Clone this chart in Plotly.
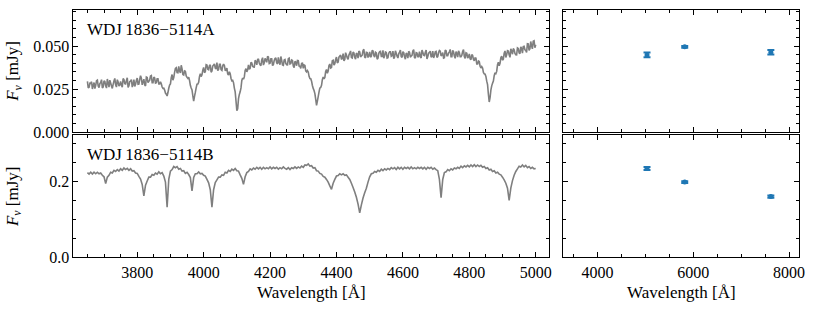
import numpy as np
import plotly.graph_objects as go

# ---------------- data ----------------
# Spectrum A read at 3650, 3655, ..., 5000 A and at the in-between points 3652.5, ..., 4997.5 A
flux_A_main = [
    0.0295, 0.0261, 0.0284, 0.0251, 0.0288, 0.0272, 0.0302, 0.0259, 0.0288, 0.0257,
    0.0298, 0.0270, 0.0309, 0.0261, 0.0286, 0.0254, 0.0298, 0.0275, 0.0305, 0.0268,
    0.0295, 0.0261, 0.0306, 0.0280, 0.0316, 0.0269, 0.0296, 0.0262, 0.0305, 0.0278,
    0.0314, 0.0279, 0.0328, 0.0275, 0.0308, 0.0269, 0.0317, 0.0295, 0.0326, 0.0287,
    0.0320, 0.0285, 0.0310, 0.0280, 0.0292, 0.0262, 0.0255, 0.0227, 0.0210, 0.0255,
    0.0280, 0.0335, 0.0317, 0.0370, 0.0346, 0.0382, 0.0344, 0.0367, 0.0332, 0.0354,
    0.0318, 0.0320, 0.0272, 0.0245, 0.0180, 0.0231, 0.0278, 0.0290, 0.0339, 0.0333,
    0.0376, 0.0351, 0.0390, 0.0363, 0.0391, 0.0355, 0.0390, 0.0372, 0.0404, 0.0364,
    0.0394, 0.0359, 0.0395, 0.0360, 0.0372, 0.0332, 0.0340, 0.0298, 0.0288, 0.0234,
    0.0125, 0.0195, 0.0234, 0.0300, 0.0308, 0.0359, 0.0350, 0.0391, 0.0371, 0.0402,
    0.0379, 0.0418, 0.0391, 0.0426, 0.0392, 0.0420, 0.0390, 0.0429, 0.0406, 0.0437,
    0.0401, 0.0426, 0.0393, 0.0428, 0.0402, 0.0435, 0.0392, 0.0418, 0.0388, 0.0422,
    0.0392, 0.0427, 0.0396, 0.0419, 0.0384, 0.0412, 0.0386, 0.0416, 0.0383, 0.0400,
    0.0371, 0.0387, 0.0350, 0.0350, 0.0312, 0.0296, 0.0254, 0.0224, 0.0155, 0.0206,
    0.0256, 0.0272, 0.0320, 0.0318, 0.0364, 0.0355, 0.0396, 0.0376, 0.0418, 0.0398,
    0.0436, 0.0407, 0.0442, 0.0423, 0.0456, 0.0423, 0.0449, 0.0423, 0.0459, 0.0434,
    0.0466, 0.0435, 0.0460, 0.0430, 0.0467, 0.0443, 0.0474, 0.0436, 0.0464, 0.0434,
    0.0466, 0.0442, 0.0472, 0.0436, 0.0460, 0.0430, 0.0468, 0.0440, 0.0476, 0.0444,
    0.0463, 0.0433, 0.0467, 0.0441, 0.0471, 0.0437, 0.0459, 0.0431, 0.0465, 0.0439,
    0.0468, 0.0438, 0.0460, 0.0430, 0.0464, 0.0442, 0.0472, 0.0434, 0.0462, 0.0436,
    0.0468, 0.0432, 0.0465, 0.0445, 0.0477, 0.0440, 0.0464, 0.0436, 0.0471, 0.0445,
    0.0469, 0.0439, 0.0475, 0.0443, 0.0463, 0.0433, 0.0473, 0.0445, 0.0467, 0.0439,
    0.0475, 0.0443, 0.0468, 0.0436, 0.0463, 0.0438, 0.0469, 0.0440, 0.0461, 0.0431,
    0.0455, 0.0422, 0.0446, 0.0415, 0.0430, 0.0396, 0.0410, 0.0373, 0.0373, 0.0339,
    0.0324, 0.0276, 0.0175, 0.0244, 0.0284, 0.0328, 0.0340, 0.0392, 0.0386, 0.0432,
    0.0419, 0.0459, 0.0434, 0.0474, 0.0450, 0.0485, 0.0453, 0.0479, 0.0450, 0.0490,
    0.0461, 0.0496, 0.0460, 0.0499, 0.0475, 0.0514, 0.0475, 0.0527, 0.0484, 0.0531,
    0.0508,
]
flux_A_mid = [
    0.0257, 0.0285, 0.0293, 0.0271, 0.0253, 0.0299, 0.0268, 0.0282, 0.0305, 0.0263,
    0.0294, 0.0256, 0.0286, 0.0302, 0.0268, 0.0278, 0.0312, 0.0262, 0.0292, 0.0274,
    0.0272, 0.0312, 0.0282, 0.0300, 0.0260, 0.0294, 0.0306, 0.0276, 0.0266, 0.0302,
    0.0278, 0.0306, 0.0314, 0.0292, 0.0274, 0.0320, 0.0288, 0.0302, 0.0329, 0.0287,
    0.0315, 0.0287, 0.0310, 0.0280, 0.0281, 0.0254, 0.0244, 0.0220, 0.0230, 0.0274,
    0.0317, 0.0302, 0.0347, 0.0374, 0.0345, 0.0356, 0.0389, 0.0335, 0.0356, 0.0327,
    0.0312, 0.0301, 0.0256, 0.0210, 0.0208, 0.0257, 0.0279, 0.0323, 0.0323, 0.0360,
    0.0346, 0.0392, 0.0366, 0.0386, 0.0348, 0.0384, 0.0397, 0.0368, 0.0358, 0.0394,
    0.0363, 0.0386, 0.0387, 0.0359, 0.0338, 0.0351, 0.0312, 0.0301, 0.0256, 0.0180,
    0.0135, 0.0219, 0.0257, 0.0315, 0.0321, 0.0369, 0.0362, 0.0366, 0.0406, 0.0383,
    0.0378, 0.0410, 0.0421, 0.0402, 0.0386, 0.0433, 0.0403, 0.0418, 0.0441, 0.0399,
    0.0426, 0.0387, 0.0416, 0.0432, 0.0397, 0.0406, 0.0440, 0.0390, 0.0419, 0.0400,
    0.0391, 0.0430, 0.0399, 0.0416, 0.0375, 0.0407, 0.0417, 0.0384, 0.0370, 0.0401,
    0.0390, 0.0356, 0.0358, 0.0324, 0.0311, 0.0271, 0.0242, 0.0190, 0.0180, 0.0234,
    0.0259, 0.0305, 0.0310, 0.0352, 0.0342, 0.0387, 0.0373, 0.0415, 0.0389, 0.0423,
    0.0403, 0.0436, 0.0448, 0.0429, 0.0414, 0.0462, 0.0432, 0.0448, 0.0472, 0.0431,
    0.0461, 0.0424, 0.0454, 0.0471, 0.0437, 0.0448, 0.0482, 0.0432, 0.0462, 0.0444,
    0.0436, 0.0476, 0.0446, 0.0464, 0.0424, 0.0458, 0.0470, 0.0440, 0.0430, 0.0466,
    0.0431, 0.0459, 0.0467, 0.0445, 0.0427, 0.0473, 0.0441, 0.0455, 0.0477, 0.0435,
    0.0462, 0.0424, 0.0454, 0.0470, 0.0436, 0.0446, 0.0480, 0.0430, 0.0460, 0.0442,
    0.0437, 0.0477, 0.0447, 0.0465, 0.0425, 0.0459, 0.0471, 0.0441, 0.0431, 0.0467,
    0.0435, 0.0463, 0.0471, 0.0449, 0.0431, 0.0477, 0.0445, 0.0459, 0.0481, 0.0439,
    0.0467, 0.0429, 0.0458, 0.0473, 0.0438, 0.0447, 0.0480, 0.0429, 0.0458, 0.0437,
    0.0426, 0.0451, 0.0422, 0.0431, 0.0396, 0.0413, 0.0383, 0.0381, 0.0347, 0.0337,
    0.0296, 0.0220, 0.0200, 0.0269, 0.0297, 0.0345, 0.0353, 0.0406, 0.0400, 0.0442,
    0.0424, 0.0472, 0.0449, 0.0472, 0.0435, 0.0472, 0.0486, 0.0457, 0.0449, 0.0487,
    0.0456, 0.0487, 0.0497, 0.0479, 0.0464, 0.0513, 0.0485, 0.0502, 0.0528, 0.0491,
]
# Spectrum B read at 3650, 3655, ..., 5000 A
flux_B = [
    0.223, 0.219, 0.224, 0.219, 0.224, 0.220, 0.224, 0.220, 0.222, 0.216,
    0.212, 0.194, 0.211, 0.216, 0.224, 0.222, 0.229, 0.226, 0.231, 0.227,
    0.233, 0.229, 0.235, 0.231, 0.234, 0.229, 0.233, 0.227, 0.228, 0.222,
    0.221, 0.213, 0.206, 0.192, 0.162, 0.190, 0.201, 0.211, 0.211, 0.218,
    0.216, 0.222, 0.219, 0.225, 0.220, 0.223, 0.214, 0.198, 0.132, 0.205,
    0.227, 0.231, 0.239, 0.236, 0.239, 0.232, 0.234, 0.227, 0.228, 0.221,
    0.224, 0.218, 0.210, 0.175, 0.210, 0.220, 0.220, 0.225, 0.220, 0.221,
    0.216, 0.214, 0.205, 0.196, 0.178, 0.132, 0.178, 0.197, 0.204, 0.211,
    0.211, 0.217, 0.216, 0.224, 0.222, 0.229, 0.226, 0.232, 0.229, 0.234,
    0.228, 0.227, 0.217, 0.208, 0.192, 0.212, 0.223, 0.226, 0.233, 0.230,
    0.235, 0.232, 0.237, 0.233, 0.237, 0.232, 0.237, 0.233, 0.236, 0.233,
    0.238, 0.233, 0.237, 0.234, 0.237, 0.232, 0.236, 0.233, 0.238, 0.234,
    0.232, 0.236, 0.231, 0.236, 0.234, 0.238, 0.234, 0.238, 0.235, 0.240,
    0.237, 0.243, 0.242, 0.246, 0.240, 0.241, 0.235, 0.236, 0.228, 0.227,
    0.221, 0.219, 0.213, 0.211, 0.205, 0.198, 0.188, 0.179, 0.195, 0.205,
    0.214, 0.215, 0.220, 0.217, 0.220, 0.216, 0.217, 0.211, 0.205, 0.195,
    0.184, 0.172, 0.158, 0.140, 0.117, 0.138, 0.156, 0.170, 0.182, 0.198,
    0.212, 0.220, 0.221, 0.226, 0.224, 0.229, 0.226, 0.232, 0.228, 0.233,
    0.230, 0.234, 0.231, 0.236, 0.233, 0.236, 0.231, 0.237, 0.233, 0.237,
    0.232, 0.237, 0.234, 0.237, 0.233, 0.238, 0.233, 0.236, 0.233, 0.237,
    0.234, 0.237, 0.233, 0.237, 0.232, 0.237, 0.234, 0.237, 0.232, 0.235,
    0.231, 0.228, 0.205, 0.157, 0.205, 0.223, 0.225, 0.231, 0.228, 0.233,
    0.230, 0.235, 0.233, 0.237, 0.234, 0.240, 0.236, 0.241, 0.238, 0.242,
    0.238, 0.243, 0.239, 0.244, 0.239, 0.243, 0.239, 0.242, 0.237, 0.239,
    0.234, 0.236, 0.230, 0.232, 0.226, 0.228, 0.222, 0.224, 0.219, 0.217,
    0.211, 0.204, 0.195, 0.182, 0.150, 0.182, 0.202, 0.216, 0.226, 0.233,
    0.240, 0.238, 0.243, 0.238, 0.242, 0.236, 0.239, 0.234, 0.237, 0.233,
    0.234,
]
wave_main = 3650 + 5 * np.arange(len(flux_A_main))
wave_mid = 3652.5 + 5 * np.arange(len(flux_A_mid))
order = np.argsort(np.concatenate([wave_main, wave_mid]), kind="stable")
wave_A = np.concatenate([wave_main, wave_mid])[order]
flux_A = np.concatenate([flux_A_main, flux_A_mid])[order]
wave_B = 3650 + 5 * np.arange(len(flux_B))

phot_wave = [5035, 5822, 7619]          # Gaia BP, G, RP
phot_A = [0.0449, 0.0496, 0.0465]
phot_A_err = [0.0014, 0.0005, 0.0013]
phot_B = [0.234, 0.198, 0.160]
phot_B_err = [0.004, 0.0025, 0.003]

name_A = "WDJ\u20091836\u22125114A"
name_B = "WDJ\u20091836\u22125114B"
ytitle = "<i>F</i><sub><i>\u03bd</i></sub> [mJy]"
xtitle = "Wavelength [\u00c5]"

# ---------------- figure ----------------
W, H = 830, 312
def px(x):
    return x / W
def py(y):
    return 1 - y / H

FONT = "Liberation Serif, 'Times New Roman', Times, DejaVu Serif, serif"
fig = go.Figure()

fig.add_trace(go.Scatter(x=wave_A, y=flux_A, mode="lines",
                         line=dict(color="#7f7f7f", width=1.6, simplify=False),
                         xaxis="x", yaxis="y", showlegend=False, hoverinfo="skip"))
fig.add_trace(go.Scatter(x=wave_B, y=flux_B, mode="lines",
                         line=dict(color="#7f7f7f", width=1.6, simplify=False),
                         xaxis="x3", yaxis="y3", showlegend=False, hoverinfo="skip"))
fig.add_trace(go.Scatter(x=phot_wave, y=phot_A, mode="markers",
                         marker=dict(color="#1f77b4", size=5),
                         error_y=dict(type="data", array=phot_A_err, color="#1f77b4", thickness=2, width=3.5),
                         xaxis="x2", yaxis="y2", showlegend=False, hoverinfo="skip"))
fig.add_trace(go.Scatter(x=phot_wave, y=phot_B, mode="markers",
                         marker=dict(color="#1f77b4", size=5),
                         error_y=dict(type="data", array=phot_B_err, color="#1f77b4", thickness=2, width=3.5),
                         xaxis="x4", yaxis="y4", showlegend=False, hoverinfo="skip"))

common = dict(showline=True, linecolor="black", linewidth=1, mirror="allticks",
              ticks="inside", ticklen=5, tickwidth=1, tickcolor="black",
              showgrid=False, zeroline=False,
              tickfont=dict(family=FONT, size=16, color="black"))

xL = [px(74), px(553)]
xR = [px(567), px(805)]
yT = [py(136), py(10)]
yB = [py(265), py(139)]

xl_range = [3608, 5040]
xr_range = [3280, 8210]
yt_range = [0, 0.0712]
yb_range = [0, 0.322]

minor_xl = dict(ticks="inside", ticklen=3, dtick=50, tick0=3600, tickcolor="black", showgrid=False)
minor_xr = dict(ticks="inside", ticklen=3, dtick=500, tick0=0, tickcolor="black", showgrid=False)
minor_yt = dict(ticks="inside", ticklen=3, dtick=0.005, tick0=0, tickcolor="black", showgrid=False)
minor_yb = dict(ticks="inside", ticklen=3, dtick=0.05, tick0=0, tickcolor="black", showgrid=False)

fig.update_layout(
    width=W, height=H, margin=dict(l=0, r=0, t=0, b=0),
    paper_bgcolor="white", plot_bgcolor="white",
    font=dict(family=FONT, color="black"),
    hovermode=False,
    xaxis=dict(domain=xL, range=xl_range, anchor="y", dtick=200, tick0=3600,
               showticklabels=False, minor=minor_xl, **common),
    yaxis=dict(domain=yT, range=yt_range, anchor="x", dtick=0.025, tick0=0,
               tickformat=".3f", minor=minor_yt, **common),
    xaxis2=dict(domain=xR, range=xr_range, anchor="y2", dtick=2000, tick0=0,
                showticklabels=False, minor=minor_xr, **common),
    yaxis2=dict(domain=yT, range=yt_range, anchor="x2", dtick=0.025, tick0=0,
                showticklabels=False, minor=minor_yt, **common),
    xaxis3=dict(domain=xL, range=xl_range, anchor="y3", dtick=200, tick0=3600,
                minor=minor_xl, **common),
    yaxis3=dict(domain=yB, range=yb_range, anchor="x3", dtick=0.2, tick0=0,
                tickformat=".1f", minor=minor_yb, **common),
    xaxis4=dict(domain=xR, range=xr_range, anchor="y4", dtick=2000, tick0=0,
                minor=minor_xr, **common),
    yaxis4=dict(domain=yB, range=yb_range, anchor="x4", dtick=0.2, tick0=0,
                showticklabels=False, minor=minor_yb, **common),
)

ann_font = dict(family=FONT, size=17, color="black")
annotations = [
    dict(text=name_A, x=px(86), y=py(30), xanchor="left", yanchor="middle"),
    dict(text=name_B, x=px(86), y=py(159), xanchor="left", yanchor="middle"),
    dict(text=ytitle, x=px(14), y=py(73), xanchor="center", yanchor="middle", textangle=-90),
    dict(text=ytitle, x=px(14), y=py(202), xanchor="center", yanchor="middle", textangle=-90),
    dict(text=xtitle, x=px(313.5), y=py(301), xanchor="center", yanchor="middle"),
    dict(text=xtitle, x=px(686), y=py(301), xanchor="center", yanchor="middle"),
]
for a in annotations:
    fig.add_annotation(xref="paper", yref="paper", showarrow=False, font=ann_font, **a)

fig.write_html("out.html", config={"displayModeBar": False, "staticPlot": True},
               post_script="document.body.style.margin='0';document.body.style.overflow='hidden';")
